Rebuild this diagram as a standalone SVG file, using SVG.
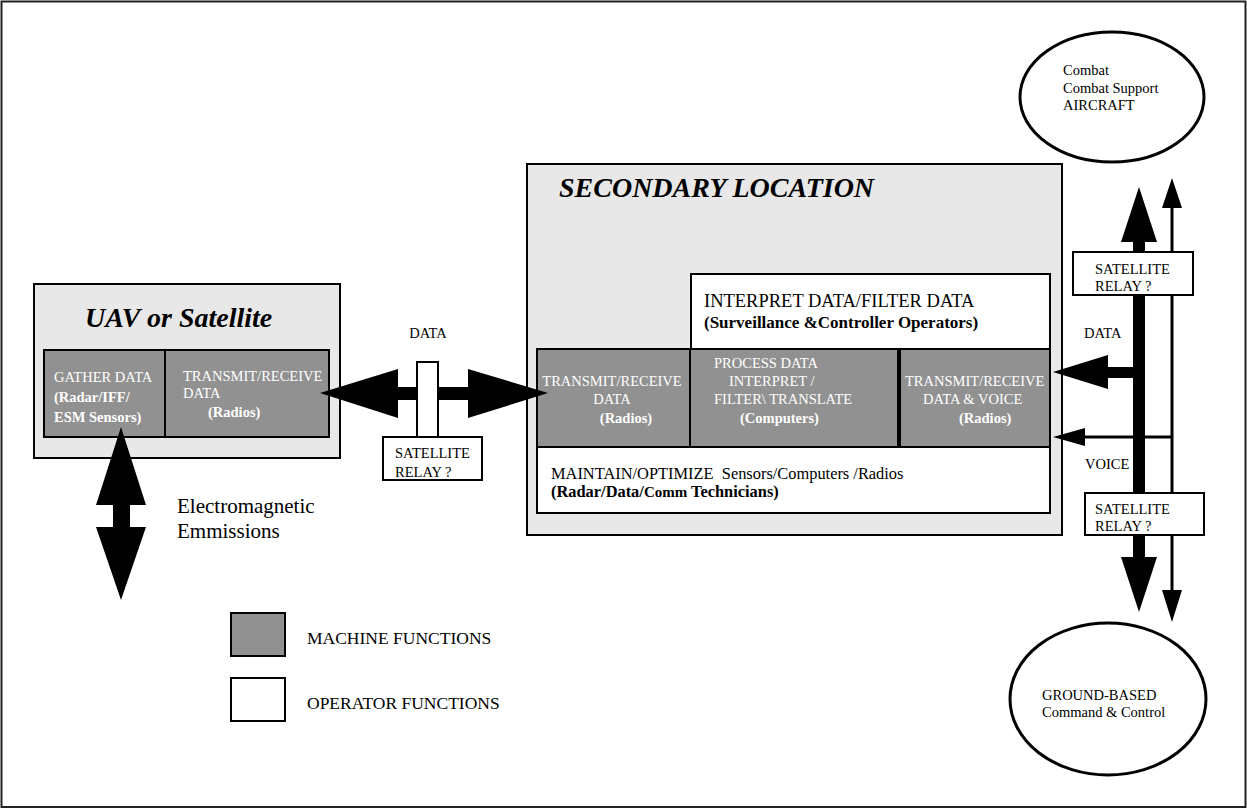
<svg xmlns="http://www.w3.org/2000/svg" width="1247" height="809" viewBox="0 0 1247 809">
<style>
text{font-family:"Liberation Serif","Times New Roman",serif;fill:#000}
.t{font-size:14.5px}
.w{fill:#fff}
.b{font-weight:bold}
.title{font-size:28px;font-weight:bold;font-style:italic}
.panel{fill:#e8e8e8;stroke:#000;stroke-width:2}
.mach{fill:#919191;stroke:#000;stroke-width:2}
.oper{fill:#fff;stroke:#000;stroke-width:2}
.ell{fill:#fff;stroke:#000;stroke-width:3}
.ar{fill:#000;stroke:none}
.ln{stroke:#000;stroke-width:3;fill:none}
</style>
<rect x="1.5" y="1.5" width="1244" height="805.5" fill="#fff" stroke="#222" stroke-width="2"/>

<g id="uav">
<rect class="panel" x="34" y="284" width="306" height="174"/>
<text class="title" x="85" y="327">UAV or Satellite</text>
<rect class="mach" x="44" y="350" width="121" height="87"/>
<text class="t w" x="54" y="382">GATHER DATA</text>
<text class="t w b" x="54" y="402">(Radar/IFF/</text>
<text class="t w b" x="54" y="422">ESM Sensors)</text>
<rect class="mach" x="165" y="350" width="164" height="87"/>
<text class="t w" x="183" y="381">TRANSMIT/RECEIVE</text>
<text class="t w" x="183" y="398">DATA</text>
<text class="t w b" x="208" y="417">(Radios)</text>
</g>

<g id="secondary">
<rect class="panel" x="527" y="164" width="535" height="371"/>
<text class="title" x="559" y="197">SECONDARY LOCATION</text>
<rect class="oper" x="691" y="274" width="359" height="75"/>
<text x="704" y="307" font-size="18.5">INTERPRET DATA/FILTER DATA</text>
<text x="704" y="328" font-size="17" font-weight="bold">(Surveillance &amp;Controller Operators)</text>
<rect class="mach" x="537" y="349" width="153" height="98"/>
<text class="t w" x="612" y="386" text-anchor="middle">TRANSMIT/RECEIVE</text>
<text class="t w" x="612" y="404" text-anchor="middle">DATA</text>
<text class="t w b" x="626" y="423" text-anchor="middle">(Radios)</text>
<rect class="mach" x="690" y="349" width="208" height="98"/>
<text class="t w" x="714" y="368">PROCESS DATA</text>
<text class="t w" x="729" y="386">INTERPRET /</text>
<text class="t w" x="714" y="404">FILTER\ TRANSLATE</text>
<text class="t w b" x="740" y="423">(Computers)</text>
<rect class="mach" x="900" y="349" width="150" height="98"/>
<text class="t w" x="905" y="386">TRANSMIT/RECEIVE</text>
<text class="t w" x="923" y="404">DATA &amp; VOICE</text>
<text class="t w b" x="959" y="423">(Radios)</text>
<rect class="oper" x="537" y="447" width="513" height="66"/>
<text x="551" y="479" font-size="16.4" xml:space="preserve">MAINTAIN/OPTIMIZE  Sensors/Computers /Radios</text>
<text x="551" y="497" font-size="16.4" font-weight="bold">(Radar/Data/<tspan font-size="15">Comm</tspan> Technicians)</text>
</g>

<g id="aircraft">
<ellipse class="ell" cx="1112" cy="97" rx="92" ry="65"/>
<text class="t" x="1063" y="75">Combat</text>
<text class="t" x="1063" y="93">Combat Support</text>
<text class="t" x="1063" y="110">AIRCRAFT</text>
</g>

<g id="ground">
<ellipse class="ell" cx="1108" cy="699" rx="98" ry="76"/>
<text class="t" x="1042" y="700">GROUND-BASED</text>
<text class="t" x="1042" y="717">Command &amp; Control</text>
</g>

<g id="connectors">
<polygon class="ar" points="121,427 146,505 130,505 130,527 146,527 121,600 96,527 113,527 113,505 96,505"/>
<polygon class="ar" points="320,393 398,369 398,387 468,387 468,369 548,393 468,418 468,400 398,400 398,418"/>
<rect class="ar" x="1133" y="242" width="12" height="315"/>
<polygon class="ar" points="1139,187 1157,242 1121,242"/>
<polygon class="ar" points="1121,557 1157,557 1139,612"/>
<line class="ln" x1="1172" y1="206" x2="1172" y2="592"/>
<polygon class="ar" points="1172,178 1182,208 1162,208"/>
<polygon class="ar" points="1162,590 1182,590 1172,622"/>
<rect class="ar" x="1106" y="367" width="29" height="11"/>
<polygon class="ar" points="1053,372 1108,355 1108,389"/>
<line class="ln" x1="1083" y1="437" x2="1172" y2="437"/>
<polygon class="ar" points="1053,437 1085,428 1085,446"/>
</g>

<g id="relay-mid">
<path d="M417,437 V362 H438 V437" fill="#fff" stroke="#000" stroke-width="2"/>
<rect class="oper" x="383" y="437" width="99" height="43"/>
<text class="t" x="395" y="458">SATELLITE</text>
<text class="t" x="395" y="477">RELAY ?</text>
<text class="t" x="428" y="338" text-anchor="middle">DATA</text>
</g>

<g id="relay-up">
<rect class="oper" x="1073" y="252" width="120" height="43"/>
<text class="t" x="1095" y="274">SATELLITE</text>
<text class="t" x="1095" y="291">RELAY ?</text>
</g>

<g id="relay-down">
<rect class="oper" x="1085" y="493" width="119" height="42"/>
<text class="t" x="1095" y="514">SATELLITE</text>
<text class="t" x="1095" y="531">RELAY ?</text>
</g>

<g id="labels">
<text class="t" x="1084" y="338">DATA</text>
<text class="t" x="1085" y="469">VOICE</text>
<text x="177" y="513" font-size="21">Electromagnetic</text>
<text x="177" y="538" font-size="21">Emmissions</text>
</g>

<g id="legend">
<rect class="mach" x="231" y="613" width="54" height="43"/>
<text x="307" y="644" font-size="17.5">MACHINE FUNCTIONS</text>
<rect class="oper" x="231" y="678" width="54" height="43"/>
<text x="307" y="709" font-size="17.5">OPERATOR FUNCTIONS</text>
</g>
</svg>
